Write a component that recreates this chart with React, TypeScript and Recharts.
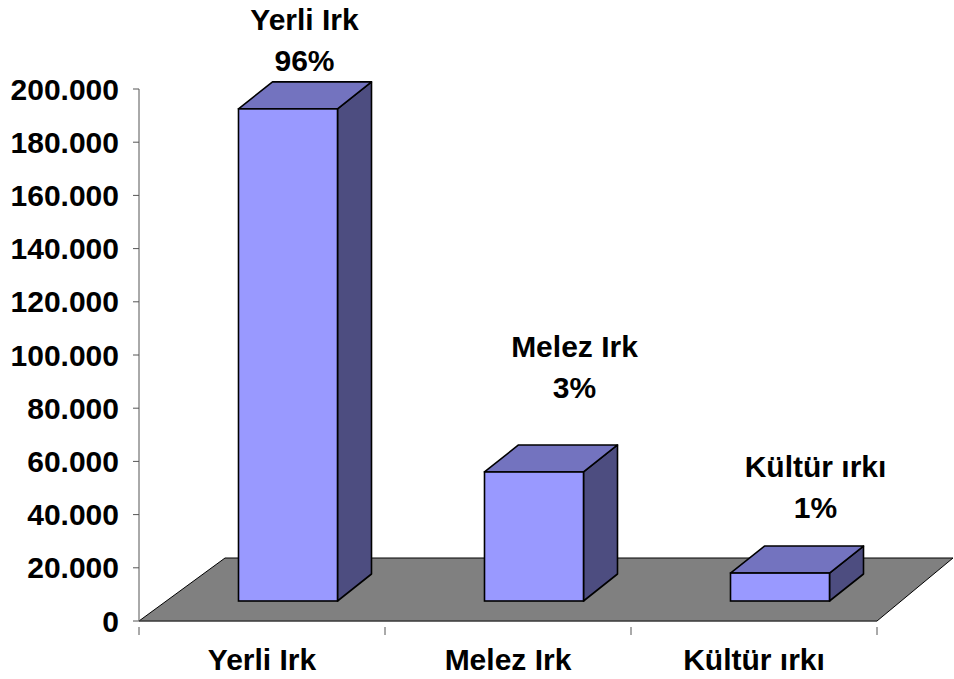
import { BarChart, Bar, XAxis, YAxis, ReferenceArea } from 'recharts';

const categories = ['Yerli Irk', 'Melez Irk', 'Kültür ırkı'];
const counts = [185000, 48500, 10500];
const shares = ['96%', '3%', '1%'];
const yTicks = [0, 20000, 40000, 60000, 80000, 100000, 120000, 140000, 160000, 180000, 200000];

const data = categories.map((name, i) => ({ name, count: counts[i], share: shares[i] }));

const FONT = '"Liberation Sans", Arial, Helvetica, sans-serif';

// fake 3D look of the old Excel chart
const SHIFT_X = 25.5; // bars stand in the middle of the floor depth
const SHIFT_Y = -20;
const DEPTH_X = 34;
const DEPTH_Y = -27;

// where each data label sits, relative to bar center / bar top
const labelNudge = [
  { dx: 42, dy: -58 },
  { dx: 66, dy: -94 },
  { dx: 61, dy: -75 },
];

const fmt = (v: number) => String(v).replace(/\B(?=(\d{3})+(?!\d))/g, '.');

function Box3D(props: any) {
  const { x, y, width, height, index } = props;
  const fx = x + SHIFT_X;
  const fy = y + SHIFT_Y;
  const w = width;
  const h = height;
  const top = `${fx},${fy} ${fx + DEPTH_X},${fy + DEPTH_Y} ${fx + w + DEPTH_X},${fy + DEPTH_Y} ${fx + w},${fy}`;
  const side = `${fx + w},${fy} ${fx + w + DEPTH_X},${fy + DEPTH_Y} ${fx + w + DEPTH_X},${fy + h + DEPTH_Y} ${fx + w},${fy + h}`;
  const nudge = labelNudge[index] || { dx: 50, dy: -70 };
  const cx = x + width / 2 + nudge.dx;
  const base = y + nudge.dy;
  return (
    <g>
      <polygon points={side} fill="#4d4d80" stroke="#000" strokeWidth={1.6} strokeLinejoin="round" />
      <polygon points={top} fill="#7373bf" stroke="#000" strokeWidth={1.6} strokeLinejoin="round" />
      <rect x={fx} y={fy} width={w} height={h} fill="#9999ff" stroke="#000" strokeWidth={1.6} />
      <text x={cx} y={base - 41} textAnchor="middle" fontFamily={FONT} fontWeight="bold" fontSize={30} fill="#000">
        {categories[index]}
      </text>
      <text x={cx} y={base} textAnchor="middle" fontFamily={FONT} fontWeight="bold" fontSize={30} fill="#000">
        {shares[index]}
      </text>
    </g>
  );
}

function Floor(props: any) {
  const { x, y, width, height } = props;
  const b = y + height;
  const pts = `${x},${b} ${x + width},${b} ${x + width + 76},${b - 63} ${x + 86},${b - 63}`;
  return <polygon points={pts} fill="#808080" stroke="#000" strokeWidth={1} />;
}

function CategoryTick(props: any) {
  const { x, y, payload, index, visibleTicksCount } = props;
  const half = payload && payload.offset ? payload.offset : 123;
  const axisY = y - 27;
  return (
    <g>
      <line x1={x - half} y1={axisY} x2={x - half} y2={axisY + 8} stroke="#555" />
      {index === visibleTicksCount - 1 && (
        <line x1={x + half} y1={axisY} x2={x + half} y2={axisY + 8} stroke="#555" />
      )}
      <text x={x} y={y + 16} textAnchor="middle" fontFamily={FONT} fontWeight="bold" fontSize={30} fill="#000">
        {payload.value}
      </text>
    </g>
  );
}

export default function App() {
  return (
    <div style={{ position: 'absolute', left: 0, top: 0, background: '#fff' }}>
      <BarChart
        width={954}
        height={679}
        data={data}
        margin={{ top: 89, right: 77, bottom: 0, left: 0 }}
      >
        <ReferenceArea ifOverflow="visible" shape={Floor} />
        <XAxis
          dataKey="name"
          height={58}
          axisLine={{ stroke: '#555' }}
          tickLine={false}
          tickMargin={27}
          tick={CategoryTick}
          interval={0}
        />
        <YAxis
          width={139}
          domain={[0, 200000]}
          ticks={yTicks}
          interval={0}
          tickFormatter={fmt}
          axisLine={{ stroke: '#555' }}
          tickLine={{ stroke: '#555' }}
          tickSize={6}
          tickMargin={14}
          tick={{ fill: '#000', fontFamily: FONT, fontWeight: 'bold', fontSize: 30 }}
        />
        <Bar dataKey="count" barSize={99} shape={Box3D} isAnimationActive={false} />
      </BarChart>
    </div>
  );
}
